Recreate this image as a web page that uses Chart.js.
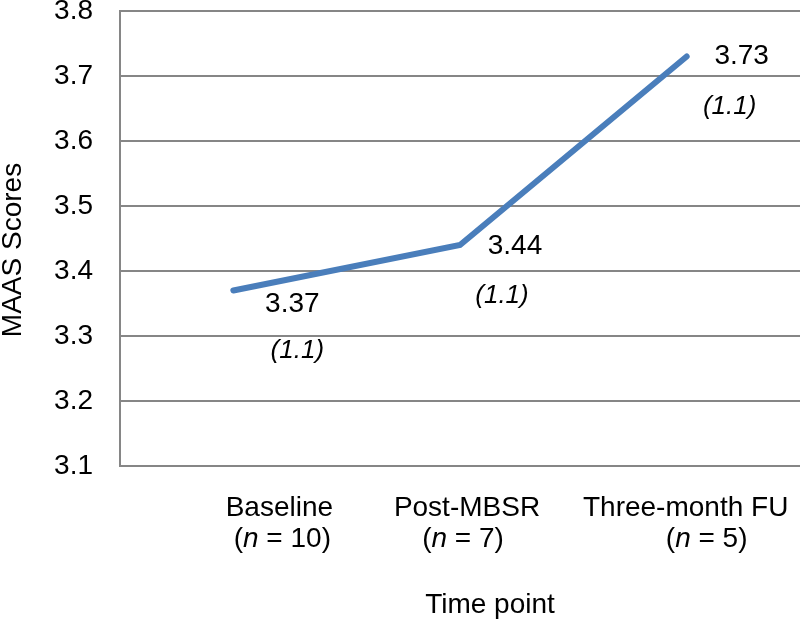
<!DOCTYPE html>
<html>
<head>
<meta charset="utf-8">
<script src="https://cdn.jsdelivr.net/npm/chart.js@4.4.1/dist/chart.umd.min.js"></script>
<style>
    html, body { margin: 0; padding: 0; background: #fff; overflow: hidden; }
    canvas { display: block; }
</style>
</head>
<body>
<canvas id="chart" width="800" height="619"></canvas>
<script>
(function () {

    "use strict";

    // data
    var categories = ['Baseline', 'Post-MBSR', 'Three-month FU'];
    var sampleSizes = ['10', '7', '5'];
    var maasMeans = [3.37, 3.44, 3.73];
    var maasSDs = ['1.1', '1.1', '1.1'];
    var yMin = 3.1, yMax = 3.8, yStep = 0.1;

    var FONT = '"Liberation Sans", Arial, sans-serif';
    var SIZE = 28;
    var GRID = '#868686';
    var LINE = '#4a7ebb';

    Chart.defaults.font.family = FONT;
    Chart.defaults.color = '#000';

    // draws "(n = 10)" with an italic n, centred on cx
    function richText(ctx, parts, cx, y, size) {
        var total = 0;
        parts.forEach(function (p) {
            ctx.font = (p.i ? 'italic ' : '') + size + 'px ' + FONT;
            p.w = ctx.measureText(p.t).width;
            total += p.w;
        });
        var x = cx - total / 2;
        ctx.textAlign = 'left';
        parts.forEach(function (p) {
            ctx.font = (p.i ? 'italic ' : '') + size + 'px ' + FONT;
            ctx.fillText(p.t, x, y);
            x += p.w;
        });
    }

    var labelsPlugin = {
        id: 'labels',
        afterDraw: function (chart) {
            var ctx = chart.ctx;
            var area = chart.chartArea;
            var xs = chart.scales.x;
            var meta = chart.getDatasetMeta(0);

            // shifts of the wrapped category labels (line 1, line 2)
            var catShift = [[46, 49], [7, 3], [-1, 20]];
            // value / sd label offsets from each point
            var valNudge = [[59, 14], [55, 1], [55, 0]];
            var sdNudge = [[64, 60], [42, 51], [43, 50]];

            ctx.save();
            ctx.fillStyle = '#000';
            ctx.textBaseline = 'alphabetic';

            categories.forEach(function (cat, i) {
                var cx = xs.getPixelForTick(i);
                ctx.font = SIZE + 'px ' + FONT;
                ctx.textAlign = 'center';
                ctx.fillText(cat, cx + catShift[i][0], area.bottom + 50);
                richText(ctx, [
                    { t: '(', i: false },
                    { t: 'n', i: true },
                    { t: ' = ' + sampleSizes[i] + ')', i: false }
                ], cx + catShift[i][1], area.bottom + 81, SIZE);
            });

            // point labels
            ctx.textBaseline = 'middle';
            ctx.textAlign = 'center';
            meta.data.forEach(function (pt, i) {
                ctx.font = SIZE + 'px ' + FONT;
                ctx.fillText(maasMeans[i].toFixed(2), pt.x + valNudge[i][0], pt.y + valNudge[i][1]);
                ctx.font = 'italic ' + (SIZE - 2) + 'px ' + FONT;
                ctx.fillText('(' + maasSDs[i] + ')', pt.x + sdNudge[i][0], pt.y + sdNudge[i][1]);
            });

            // axis titles
            ctx.font = SIZE + 'px ' + FONT;
            ctx.textBaseline = 'alphabetic';
            ctx.fillText('Time point', 490, area.bottom + 147);

            ctx.translate(13, 250);
            ctx.rotate(-Math.PI / 2);
            ctx.textBaseline = 'middle';
            ctx.fillText('MAAS Scores', 0, 0);
            ctx.restore();
        }
    };

    var config = {
        type: 'line',
        data: {
            labels: categories,
            datasets: [{
                data: maasMeans,
                borderColor: LINE,
                borderWidth: 6,
                borderCapStyle: 'round',
                borderJoinStyle: 'miter',
                pointRadius: 0,
                tension: 0,
                fill: false
            }]
        },
        options: {
            responsive: false,
            animation: false,
            layout: { padding: { top: 11, right: 0, left: 0, bottom: 0 } },
            plugins: {
                legend: { display: false },
                tooltip: { enabled: false }
            },
            scales: {
                x: {
                    type: 'category',
                    offset: true,
                    grid: { display: false, drawTicks: false },
                    border: { display: true, color: GRID, width: 2 },
                    ticks: { display: false },
                    afterFit: function (scale) { scale.height = 153; }
                },
                y: {
                    min: yMin,
                    max: yMax,
                    grid: { color: GRID, lineWidth: 2, drawTicks: false },
                    border: { display: true, color: GRID, width: 2 },
                    ticks: {
                        stepSize: yStep,
                        padding: 27,
                        font: { size: SIZE },
                        color: '#000',
                        callback: function (v) { return v.toFixed(1); }
                    },
                    afterFit: function (scale) {
                        scale.width = 120;
                        // top label may poke above the plot like in the source
                        scale.paddingTop = 0;
                        scale.paddingBottom = 0;
                    }
                }
            }
        },
        plugins: [labelsPlugin]
    };

    new Chart(document.getElementById('chart').getContext('2d'), config);

})();
</script>
</body>
</html>
